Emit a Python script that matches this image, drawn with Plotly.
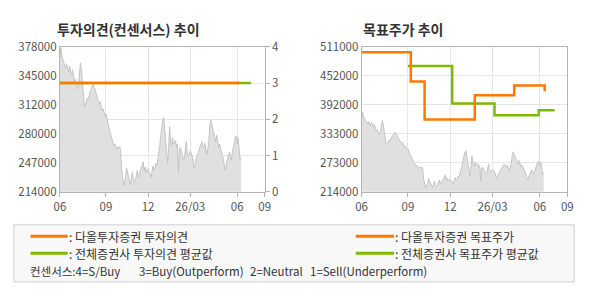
import plotly.graph_objects as go

# ---------------- data ----------------
x_tick_pos = [0, 47, 90, 133, 181, 209]
x_tick_labels = ['06', '09', '12', '26/03', '06', '09']

# daily close (thousand KRW), index = trading day
price_k = [365, 377, 368, 362, 360, 357, 354, 358, 352, 349, 356, 350, 346, 352, 344, 338, 341, 335, 330, 336,
           348, 360, 352, 338, 328, 310, 312, 316, 320, 318, 324, 328, 330, 334, 336, 332, 330, 325, 322, 318,
           314, 316, 310, 306, 308, 303, 300, 302, 296, 290, 286, 282, 279, 274, 270, 266, 268, 264, 262, 265,
           263, 265, 262, 240, 228, 221, 226, 230, 241, 236, 233, 226, 222, 230, 236, 228, 224, 226, 232, 238,
           230, 233, 236, 240, 244, 248, 238, 242, 236, 239, 240, 236, 234, 230, 236, 243, 238, 240, 246, 244,
           252, 258, 266, 278, 290, 296, 298, 284, 270, 261, 246, 262, 288, 270, 266, 275, 268, 270, 272, 264,
           268, 236, 262, 264, 258, 254, 250, 252, 266, 271, 258, 254, 256, 260, 258, 254, 250, 240, 246, 250,
           255, 258, 261, 264, 268, 271, 266, 264, 269, 262, 256, 262, 271, 289, 296, 290, 286, 281, 276, 270,
           278, 272, 264, 268, 264, 257, 254, 250, 243, 238, 246, 250, 255, 259, 254, 250, 258, 264, 270, 275,
           277, 268, 275, 262, 250, 252]
price = [v * 1000 for v in price_k]
days = list(range(len(price)))

# investment opinion (4=S/Buy 3=Buy 2=Neutral 1=Sell)
op_daol_x = [0, 184]
op_daol = [3, 3]
op_avg_x = [0, 195]
op_avg = [3, 3]

# target price
tp_daol_x = [0, 50, 64, 115, 155, 186]
tp_daol = [500000, 440000, 362000, 412000, 432000, 420000]
tp_avg_x = [47, 92, 135, 180, 196]
tp_avg = [472000, 395000, 371000, 381000, 381000]

y1_ticks = [214000, 246800, 279600, 312400, 345200, 378000]
y1_labels = ['214000', '247000', '280000', '312000', '345000', '378000']
y3_ticks = [214000, 273400, 332800, 392200, 451600, 511000]
y3_labels = ['214000', '273000', '333000', '392000', '452000', '511000']
op_ticks = [0, 1, 2, 3, 4]

ORANGE = '#FF7800'
GREEN = '#7CBB00'
FONT = 'Noto Sans CJK KR'
W, H = 590, 300

fig = go.Figure()

# left chart
fig.add_trace(go.Scatter(x=days, y=price, xaxis='x', yaxis='y', mode='lines',
                         line=dict(color='#c4c4c4', width=1), fill='tozeroy',
                         fillcolor='#e0e0e0', hoverinfo='skip'))
fig.add_trace(go.Scatter(x=op_avg_x, y=op_avg, xaxis='x', yaxis='y2', mode='lines',
                         line=dict(color=GREEN, width=2.5)))
fig.add_trace(go.Scatter(x=op_daol_x, y=op_daol, xaxis='x', yaxis='y2', mode='lines',
                         line=dict(color=ORANGE, width=2.5)))

# right chart
fig.add_trace(go.Scatter(x=days, y=price, xaxis='x2', yaxis='y3', mode='lines',
                         line=dict(color='#c4c4c4', width=1), fill='tozeroy',
                         fillcolor='#e0e0e0', hoverinfo='skip'))
fig.add_trace(go.Scatter(x=tp_avg_x, y=tp_avg, xaxis='x2', yaxis='y3', mode='lines',
                         line=dict(color=GREEN, width=2.5, shape='hv')))
fig.add_trace(go.Scatter(x=tp_daol_x, y=tp_daol, xaxis='x2', yaxis='y3', mode='lines',
                         line=dict(color=ORANGE, width=2.5, shape='hv')))

ydom = [1 - 193 / H, 1 - 40 / H]
axcol = '#b4b4b4'
gridcol = '#e6e6e6'
tickfont = dict(family=FONT, size=11.5, color='#555555')

xcommon = dict(range=[0, 209], tickmode='array', tickvals=x_tick_pos, ticktext=x_tick_labels,
               showgrid=True, gridcolor=gridcol, gridwidth=1, ticks='outside', ticklen=4,
               tickcolor=axcol, showline=True, linecolor=axcol, linewidth=1, mirror=True,
               zeroline=False, tickfont=tickfont, fixedrange=True)

fig.update_layout(
    width=W, height=H, margin=dict(l=0, r=0, t=0, b=0),
    paper_bgcolor='white', plot_bgcolor='white', showlegend=False,
    xaxis=dict(domain=[55 / W, 264 / W], anchor='y', **xcommon),
    yaxis=dict(domain=ydom, anchor='x', range=[214000, 378000], tickmode='array',
               tickvals=y1_ticks, ticktext=y1_labels, showgrid=False, zeroline=False,
               showline=True, linecolor=axcol, ticks='', tickfont=tickfont),
    yaxis2=dict(overlaying='y', side='right', anchor='x', range=[0, 4], tickmode='array',
                tickvals=op_ticks, showgrid=True, gridcolor=gridcol, zeroline=False,
                showline=True, linecolor=axcol, ticks='outside', ticklen=4, tickcolor=axcol,
                tickfont=tickfont),
    xaxis2=dict(domain=[363 / W, 573 / W], anchor='y3', **xcommon),
    yaxis3=dict(domain=ydom, anchor='x2', range=[214000, 511000], tickmode='array',
                tickvals=y3_ticks, ticktext=y3_labels, showgrid=True, gridcolor=gridcol,
                zeroline=False, showline=True, linecolor=axcol, mirror=True, ticks='',
                tickfont=tickfont),
)

def px(xp, yp):
    return xp / W, 1 - yp / H

annotations = []
shapes = []
# titles
for txt, xp in [('투자의견(컨센서스) 추이', 50), ('목표주가 추이', 362)]:
    ax, ay = px(xp, 21)
    annotations.append(dict(text='<b>' + txt + '</b>', x=ax, y=ay, xref='paper', yref='paper',
                            xanchor='left', yanchor='middle', showarrow=False,
                            font=dict(family=FONT, size=14, color='#333333')))

# legend box
bx0, by0 = px(8, 288)
bx1, by1 = px(580, 228)
shapes.append(dict(type='rect', xref='paper', yref='paper', x0=bx0, y0=by0, x1=bx1, y1=by1,
                   fillcolor='#f8f8f8', line=dict(color='#dedede', width=1.5), layer='below'))

leg_items = [(25, 63, 240, ORANGE, ': 다올투자증권 투자의견'),
             (25, 63, 258, GREEN, ': 전체증권사 투자의견 평균값'),
             (357, 396, 240, ORANGE, ': 다올투자증권 목표주가'),
             (357, 396, 258, GREEN, ': 전체증권사 목표주가 평균값')]
for x0p, x1p, yp, col, txt in leg_items:
    a0, b0 = px(x0p, yp)
    a1, _ = px(x1p, yp)
    shapes.append(dict(type='line', xref='paper', yref='paper', x0=a0, x1=a1, y0=b0, y1=b0,
                       line=dict(color=col, width=3)))
    ax, ay = px(x1p - 1, yp)
    annotations.append(dict(text=txt, x=ax, y=ay, xref='paper', yref='paper', xanchor='left',
                            yanchor='middle', showarrow=False,
                            font=dict(family=FONT, size=12, color='#333333')))

for txt, xp in [('컨센서스:4=S/Buy', 22), ('3=Buy(Outperform)', 134),
                ('2=Neutral', 247), ('1=Sell(Underperform)', 308)]:
    ax, ay = px(xp, 277)
    annotations.append(dict(text=txt, x=ax, y=ay, xref='paper', yref='paper', xanchor='left',
                            yanchor='middle', showarrow=False,
                            font=dict(family=FONT, size=11.5, color='#333333')))

fig.update_layout(annotations=annotations, shapes=shapes)
fig.write_html('out.html')
